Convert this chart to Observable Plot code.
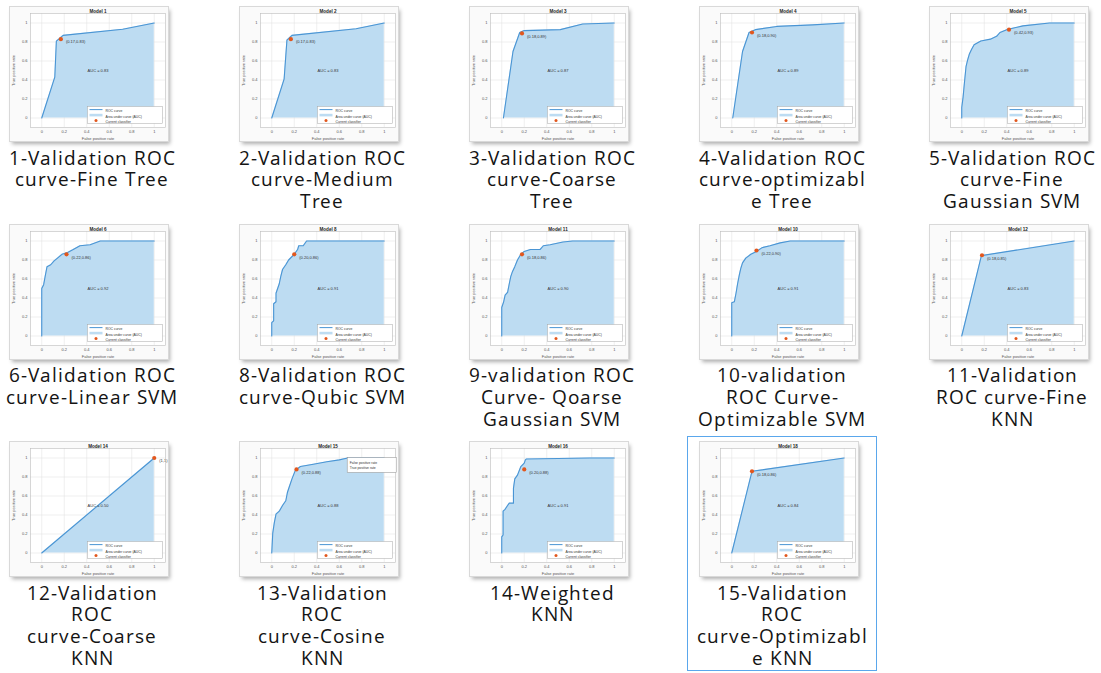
<!DOCTYPE html>
<html>
<head>
<meta charset="utf-8">
<script src="https://cdn.jsdelivr.net/npm/d3@7"></script>
<script src="https://cdn.jsdelivr.net/npm/@observablehq/plot@0.6"></script>
<style>
  @font-face { font-family: "CapSans"; src: local("Open Sans"), local("Open Sans Regular"), local("OpenSans-Regular");
               ascent-override: 85%; descent-override: 24%; line-gap-override: 0%; }
  html, body { margin: 0; padding: 0; background: #ffffff; }
  #page { position: relative; width: 1101px; height: 673px; overflow: hidden; background: #ffffff; }
  .thumb { position: absolute; background: #fafafa; overflow: hidden;
           box-shadow: 0 0 0 1px #d9d9d9, 2px 3px 4px rgba(0,0,0,0.32); }
  .thumb svg { display: block; }
  .cap { position: absolute; text-align: center; font-family: "CapSans", "Open Sans", "Noto Sans", sans-serif;
         font-size: 19px; font-weight: 500; line-height: 21.7px; letter-spacing: 1px; color: #141414; white-space: nowrap; }
  .sel { position: absolute; box-sizing: border-box; border: 1.5px solid #5aa7ec; }
</style>
</head>
<body>
<div id="page"></div>
<script>
// ---------- data ----------
const axisTicks = [0, 0.2, 0.4, 0.6, 0.8, 1];
const axisTickLabels = ["0", "0.2", "0.4", "0.6", "0.8", "1"];
const legendLabels = ["ROC curve", "Area under curve (AUC)", "Current classifier"];

const modelTitles = ["Model 1", "Model 2", "Model 3", "Model 4", "Model 5",
                     "Model 6", "Model 8", "Model 11", "Model 10", "Model 12",
                     "Model 14", "Model 15", "Model 16", "Model 18"];

const captions = [
  ["1-Validation ROC", "curve-Fine Tree"],
  ["2-Validation ROC", "curve-Medium", "Tree"],
  ["3-Validation ROC", "curve-Coarse", "Tree"],
  ["4-Validation ROC", "curve-optimizabl", "e Tree"],
  ["5-Validation ROC", "curve-Fine", "Gaussian SVM"],
  ["6-Validation ROC", "curve-Linear SVM"],
  ["8-Validation ROC", "curve-Qubic SVM"],
  ["9-validation ROC", "Curve- Qoarse", "Gaussian SVM"],
  ["10-validation", "ROC Curve-", "Optimizable SVM"],
  ["11-Validation", "ROC curve-Fine", "KNN"],
  ["12-Validation", "ROC", "curve-Coarse", "KNN"],
  ["13-Validation", "ROC", "curve-Cosine", "KNN"],
  ["14-Weighted", "KNN"],
  ["15-Validation", "ROC", "curve-Optimizabl", "e KNN"]
];

const aucValues = [0.83, 0.83, 0.87, 0.89, 0.89, 0.92, 0.91, 0.90, 0.91, 0.83, 0.50, 0.88, 0.91, 0.84];

const opFpr = [0.17, 0.17, 0.18, 0.18, 0.42, 0.22, 0.20, 0.18, 0.22, 0.18, 1, 0.22, 0.20, 0.18];
const opTpr = [0.83, 0.83, 0.89, 0.90, 0.93, 0.86, 0.86, 0.86, 0.90, 0.85, 1, 0.88, 0.88, 0.86];
const opLabels = ["(0.17,0.83)", "(0.17,0.83)", "(0.18,0.89)", "(0.18,0.90)", "(0.42,0.93)",
                  "(0.22,0.86)", "(0.20,0.86)", "(0.18,0.86)", "(0.22,0.90)", "(0.18,0.85)",
                  "(1,1)", "(0.22,0.88)", "(0.20,0.88)", "(0.18,0.86)"];

// ROC curves: [false positive rate, true positive rate]
const roc1  = [[0,0],[0.116,0.43],[0.13,0.81],[0.19,0.87],[0.72,0.935],[1,1]];
const roc2  = [[0,0],[0.11,0.41],[0.135,0.82],[0.18,0.87],[0.75,0.94],[1,1]];
const roc3  = [[0.015,0],[0.1,0.70],[0.16,0.9],[0.2,0.92],[0.52,0.93],[0.72,0.99],[1,1]];
const roc4  = [[0.009,0],[0.096,0.70],[0.154,0.9],[0.21,0.93],[0.4,0.964],[0.72,0.98],[1,1]];
const roc5  = [[0,0],[0,0.11],[0.012,0.22],[0.023,0.36],[0.038,0.54],[0.052,0.61],[0.067,0.67],[0.087,0.72],
               [0.11,0.77],[0.17,0.81],[0.255,0.83],[0.31,0.86],[0.34,0.9],[0.4,0.93],[0.545,0.97],[0.78,1],[1,1]];
const roc6  = [[0,0],[0,0.5],[0.017,0.54],[0.03,0.625],[0.047,0.73],[0.08,0.75],[0.11,0.79],[0.14,0.82],
               [0.18,0.86],[0.23,0.88],[0.28,0.91],[0.34,0.95],[0.43,0.96],[0.52,1],[1,1]];
const roc8  = [[0,0],[0,0.14],[0.017,0.16],[0.017,0.34],[0.038,0.36],[0.038,0.45],[0.067,0.55],[0.08,0.625],
               [0.096,0.70],[0.125,0.75],[0.15,0.80],[0.2,0.86],[0.23,0.91],[0.24,0.95],[0.28,0.95],[0.31,1],[1,1]];
const roc11 = [[0,0],[0,0.30],[0.017,0.36],[0.03,0.43],[0.052,0.46],[0.067,0.55],[0.08,0.625],[0.096,0.68],
               [0.116,0.73],[0.14,0.80],[0.17,0.86],[0.2,0.89],[0.255,0.91],[0.34,0.91],[0.37,0.95],[0.43,0.96],
               [0.545,0.99],[0.63,1],[1,1]];
const roc10 = [[0,0],[0,0.35],[0.023,0.36],[0.038,0.45],[0.052,0.55],[0.067,0.64],[0.08,0.71],[0.096,0.77],
               [0.125,0.82],[0.17,0.86],[0.22,0.89],[0.27,0.93],[0.34,0.95],[0.43,0.98],[0.52,1],[1,1]];
const roc12 = [[0,0],[0.175,0.846],[1,1]];
const roc14 = [[0,0],[1,1]];
const roc15 = [[0,0],[0.009,0.21],[0.023,0.32],[0.038,0.41],[0.067,0.44],[0.096,0.50],[0.125,0.55],[0.14,0.64],
               [0.16,0.71],[0.18,0.78],[0.21,0.87],[0.255,0.91],[0.37,0.935],[0.49,0.96],[0.6,0.98],[0.675,1],[1,1]];
const roc16 = [[0,0],[0,0.17],[0.012,0.19],[0.012,0.44],[0.03,0.46],[0.052,0.50],[0.067,0.525],[0.104,0.525],
               [0.104,0.68],[0.116,0.78],[0.14,0.82],[0.17,0.91],[0.2,0.946],[0.21,0.98],[0.22,0.99],[0.78,1],[1,1]];
const roc18 = [[0,0],[0.18,0.86],[1,1]];

const rocCurves = [roc1, roc2, roc3, roc4, roc5, roc6, roc8, roc11, roc10, roc12, roc14, roc15, roc16, roc18];

// data tip shown on "Model 15" (index 11)
const dataTipIndex = 11;
const dataTip = [{fpr: 0.675, tpr: 1, lines: ["False positive rate", "True positive rate"]}];
const selectedIndex = 13;

// ---------- layout ----------
const thumbW = 158, thumbH = 134;
const mL = 20, mR = 3, mT = 6, mB = 14;
const innerW = thumbW - mL - mR, innerH = thumbH - mT - mB;
const originX = 10, originY = 7, colStep = 230, rowStep = 217.5;
const legendRowsDy = [96, 101.6, 107];

const fillBlue = "#bddcf2", lineBlue = "#4a95d4", orange = "#e2571d";

function box(x0, y0, x1, y1, opts) {
  return Plot.frame({insetLeft: x0, insetTop: y0, insetRight: innerW - x1, insetBottom: innerH - y1, ...opts});
}

function thumb(i) {
  const pts = rocCurves[i].map(([fpr, tpr]) => ({fpr, tpr}));
  const op = [{fpr: opFpr[i], tpr: opTpr[i], label: opLabels[i]}];
  const marks = [
    Plot.frame({fill: "white", stroke: "none"}),
    Plot.ruleX(axisTicks, {stroke: "#e4e4e4", strokeWidth: 0.6}),
    Plot.ruleY(axisTicks, {stroke: "#e4e4e4", strokeWidth: 0.6}),
    Plot.area(pts, {x1: "fpr", y1: () => 0, y2: "tpr", fill: fillBlue}),
    Plot.line(pts, {x: "fpr", y: "tpr", stroke: lineBlue, strokeWidth: 1.1}),
    Plot.dot(op, {x: "fpr", y: "tpr", r: 2.1, fill: orange}),
    Plot.text(op, {x: "fpr", y: "tpr", text: "label", dx: 5, dy: 3, textAnchor: "start", fill: "#333"}),
    Plot.text([aucValues[i]], {frameAnchor: "middle", text: d => "AUC = " + d.toFixed(2), fill: "#333"}),
    Plot.text([modelTitles[i]], {frameAnchor: "top", dy: -3.3, text: d => d, fontWeight: "bold", fontSize: 4.6, fill: "#222"}),
    // legend
    box(57, 93, 132, 110, {fill: "white", stroke: "#a8a8a8", strokeWidth: 0.5}),
    box(59, 95.6, 72, 96.6, {fill: lineBlue, stroke: "none"}),
    box(59, 100.3, 72, 102.9, {fill: fillBlue, stroke: "none"}),
    Plot.dot([legendLabels[2]], {frameAnchor: "top-left", dx: 65.5, dy: 107, r: 1.5, fill: orange}),
    ...legendLabels.map((lab, j) => Plot.text([lab], {frameAnchor: "top-left", text: d => d, dx: 75,
      dy: legendRowsDy[j], textAnchor: "start", fontSize: 3.4, fill: "#333"})),
    Plot.frame({stroke: "#bdbdbd", strokeWidth: 0.6})
  ];
  if (i === dataTipIndex) {
    marks.push(
      Plot.rect(dataTip, {x1: "fpr", x2: "fpr", y1: "tpr", y2: "tpr", insetRight: -49, insetBottom: -15,
        fill: "white", stroke: "#8a8a8a", strokeWidth: 0.5}),
      Plot.text(dataTip, {x: "fpr", y: "tpr", text: d => d.lines.join("\n"), dx: 2, dy: 2.5,
        textAnchor: "start", lineAnchor: "top", lineHeight: 1.5, fontSize: 3.4, fill: "#333"})
    );
  }
  return Plot.plot({
    width: thumbW, height: thumbH,
    marginLeft: mL, marginRight: mR, marginTop: mT, marginBottom: mB,
    style: {fontSize: "4px", fontFamily: "'Liberation Sans', Arial, sans-serif", background: "#fafafa", color: "#555"},
    x: {domain: [-0.1, 1.1], ticks: axisTicks, tickFormat: d => axisTickLabels[axisTicks.indexOf(d)],
        tickSize: 0, tickPadding: 2.5, label: "False positive rate", labelAnchor: "center", labelOffset: 12, labelArrow: false},
    y: {domain: [-0.1, 1.1], ticks: axisTicks, tickFormat: d => axisTickLabels[axisTicks.indexOf(d)],
        tickSize: 0, tickPadding: 3, label: "True positive rate", labelAnchor: "center", labelOffset: 18.5, labelArrow: false},
    marks
  });
}

const page = document.getElementById("page");
rocCurves.forEach((_, k) => {
  const col = k % 5, row = Math.floor(k / 5);
  const left = originX + col * colStep, top = originY + row * rowStep;
  if (k === selectedIndex) {
    const sel = document.createElement("div");
    sel.className = "sel";
    Object.assign(sel.style, {left: (left - 13) + "px", top: (top - 6) + "px", width: "190px", height: "235px"});
    page.appendChild(sel);
  }
  const t = document.createElement("div");
  t.className = "thumb";
  Object.assign(t.style, {left: left + "px", top: top + "px", width: thumbW + "px", height: thumbH + "px"});
  t.appendChild(thumb(k));
  page.appendChild(t);
  const c = document.createElement("div");
  c.className = "cap";
  Object.assign(c.style, {left: (left + thumbW / 2 + 3 - 95) + "px", top: (top + 141.6) + "px", width: "190px"});
  captions[k].forEach(line => {
    const d = document.createElement("div");
    d.textContent = line;
    c.appendChild(d);
  });
  page.appendChild(c);
});
</script>
</body>
</html>
